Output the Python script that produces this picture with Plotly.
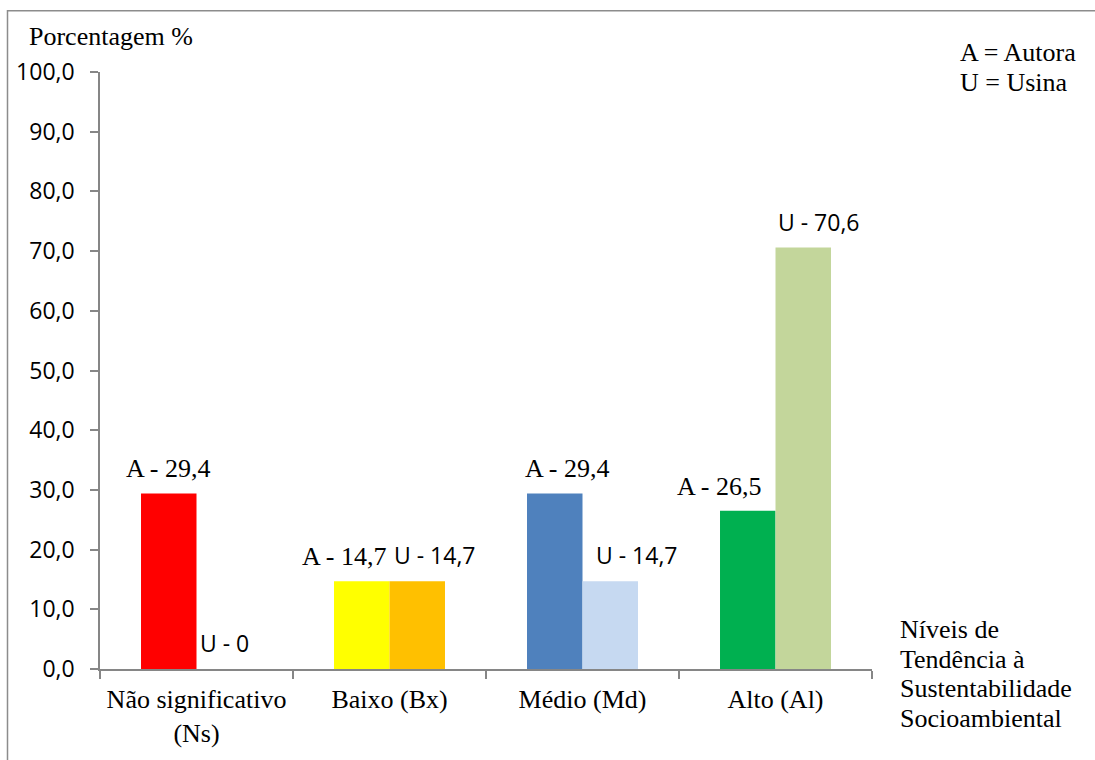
import plotly.graph_objects as go

# Níveis de tendência à sustentabilidade socioambiental (%)
categorias = ["Não significativo<br>(Ns)", "Baixo (Bx)", "Médio (Md)", "Alto (Al)"]
autora = [29.4, 14.7, 29.4, 26.5]
usina = [0.0, 14.7, 14.7, 70.6]
y_ticks = [0, 10, 20, 30, 40, 50, 60, 70, 80, 90, 100]

cores_autora = ["#FF0000", "#FFFF00", "#4F81BD", "#00B050"]
cores_usina = ["#FFC000", "#FFC000", "#C6D9F1", "#C3D69B"]

# horizontal nudges (px) of each value label relative to its bar centre
desloc_autora = [0, -17, 13, -28]
desloc_usina = [0, 18, 27, 16]

SERIF = "Times New Roman"
SANS = "Open Sans"
AXIS = "#868686"

# plot area in page pixels
L, R, T, B = 100, 872, 72, 671
W, H = 1095, 760


def px_x(px):
    return (px - L) / (R - L)


def px_y(py):
    return (B - py) / (B - T)


def fmt(v):
    s = f"{v:.1f}"
    if s.endswith(".0"):
        s = s[:-2]
    return s.replace(".", ",")


fig = go.Figure()
fig.add_trace(go.Bar(x=categorias, y=autora, name="Autora",
                     marker=dict(color=cores_autora, line=dict(width=0))))
fig.add_trace(go.Bar(x=categorias, y=usina, name="Usina",
                     marker=dict(color=cores_usina, line=dict(width=0))))

half_bar = (R - L) / len(categorias) * (1 - 0.425) / 4

annotations = []
for cat, a, u, da, du in zip(categorias, autora, usina, desloc_autora, desloc_usina):
    annotations.append(dict(x=cat, y=a, xref="x", yref="y", text=f"A - {fmt(a)}",
                            showarrow=False, yanchor="bottom", xanchor="center",
                            xshift=-half_bar + da, yshift=8,
                            font=dict(family=SERIF, size=26, color="black")))
    annotations.append(dict(x=cat, y=u, xref="x", yref="y", text=f"U - {fmt(u)}",
                            showarrow=False, yanchor="bottom", xanchor="center",
                            xshift=half_bar + du, yshift=8,
                            font=dict(family=SANS, size=23, color="black")))


def texto(txt, left_px, base_px):
    # left-aligned line of serif text placed by its baseline
    annotations.append(dict(x=px_x(left_px), y=px_y(base_px - 8), xref="paper", yref="paper",
                            text=txt, showarrow=False, xanchor="left", yanchor="middle",
                            align="left", font=dict(family=SERIF, size=26, color="black")))


texto("Porcentagem %", 27, 44)
texto("A = Autora", 958, 60)
texto("U = Usina", 958, 91)
for i, linha in enumerate(["Níveis de", "Tendência à", "Sustentabilidade", "Socioambiental"]):
    texto(linha, 898, 639 + 30 * i)

# outer frame of the chart
shapes = [dict(type="rect", xref="paper", yref="paper",
               x0=px_x(7.5), x1=px_x(1110), y0=px_y(10.5), y1=px_y(780),
               line=dict(color="#8C8C8C", width=1.5), fillcolor="rgba(0,0,0,0)")]

fig.update_layout(
    width=W, height=H,
    margin=dict(l=L, r=W - R, t=T, b=H - B),
    paper_bgcolor="white", plot_bgcolor="white",
    barmode="group", bargap=0.425, bargroupgap=0,
    showlegend=False,
    separators=",.",
    annotations=annotations,
    shapes=shapes,
    xaxis=dict(showline=True, linecolor=AXIS, linewidth=1.5, ticks="outside",
               tickson="boundaries", ticklen=8, tickcolor=AXIS, tickwidth=1.5,
               showgrid=False, ticklabelstandoff=6,
               tickfont=dict(family=SERIF, size=26, color="black")),
    yaxis=dict(range=[0, 100], tickvals=y_ticks, tickformat=".1f",
               showline=True, linecolor=AXIS, linewidth=1.5, ticks="outside",
               ticklen=8, tickcolor=AXIS, tickwidth=1.5, showgrid=False,
               zeroline=False, ticklabelstandoff=11,
               tickfont=dict(family=SANS, size=23, color="black")),
)

fig.write_html("out.html")
